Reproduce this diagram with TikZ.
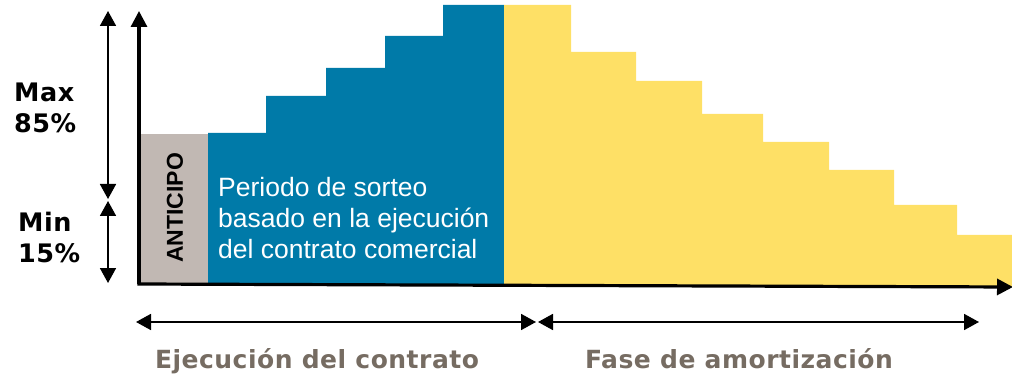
\documentclass[tikz,border=0pt]{standalone}
\usepackage{fontspec}
\setmainfont{Liberation Sans}
\newfontfamily\verd{DejaVu Sans}
\newfontfamily\verdsp[LetterSpace=2]{DejaVu Sans}
\usetikzlibrary{arrows.meta}
\definecolor{cblue}{RGB}{0,122,168}
\definecolor{cyellow}{RGB}{254,224,102}
\definecolor{cgray}{RGB}{193,184,179}
\definecolor{clabel}{RGB}{118,108,98}
\begin{document}
\begin{tikzpicture}[x=1pt,y=-1pt,
  axis/.style={line width=3.2pt,-{Triangle[length=16pt,width=16pt]}},
  dim/.style={line width=1.8pt,{Triangle[length=15pt,width=16pt]}-{Triangle[length=15pt,width=16pt]}},
  pct/.style={font=\verdsp\bfseries\fontsize{25.5}{31}\selectfont,align=left,inner sep=0,anchor=base west},
  phase/.style={font=\verdsp\bfseries\fontsize{25}{30}\selectfont,text=clabel,inner sep=0,anchor=base}]
\useasboundingbox (0,0) rectangle (1012,374);
% bars
\fill[cgray] (141,134) rectangle (208,284);
\fill[cblue] (208,284) -- (208,133) -- (266,133) -- (266,96) -- (326,96) -- (326,68)
  -- (385,68) -- (385,36) -- (443,36) -- (443,5) -- (504,5) -- (504,285) -- cycle;
\fill[cyellow] (504,285) -- (504,5) -- (571,5) -- (571,52) -- (636,52) -- (636,81)
  -- (702,81) -- (702,114) -- (763,114) -- (763,142) -- (829,142) -- (829,170)
  -- (894,170) -- (894,205) -- (957,205) -- (957,235) -- (1012,235) -- (1012,287) -- cycle;
% axes
\coordinate (o) at (139,284);
\coordinate (ytop) at (139,11);
\coordinate (xend) at (1013,287);
\draw[axis] (o) -- (ytop);
\draw[axis] (137.4,284) -- (xend);
% labels in bars
\node[font=\bfseries\fontsize{23}{23}\selectfont,rotate=90,inner sep=0] (antic) at (175,208) {ANTICIPO};
\node[font=\fontsize{26.5}{31}\selectfont,text=white,align=left,inner sep=0,anchor=north west] (periodo) at (218,177.5)
  {Periodo de sorteo\\basado en la ejecución\\del contrato comercial};
% left dimension arrows
\coordinate (maxtop) at (108,11);
\coordinate (maxbot) at (108,199);
\coordinate (mintop) at (108,201);
\coordinate (minbot) at (108,283);
\draw[dim] (maxtop) -- (maxbot);
\draw[dim] (mintop) -- (minbot);
\node[pct] (max) at (14,133) {Max\\85\%};
\node[pct] (min) at (18,262) {Min\\15\%};
% bottom phase arrows
\coordinate (e1) at (136,322);
\coordinate (e2) at (536,322);
\coordinate (f1) at (538,322);
\coordinate (f2) at (979,322);
\draw[dim] (e1) -- (e2);
\draw[dim] (f1) -- (f2);
\node[phase] (ejec) at (317,368) {Ejecución del contrato};
\node[phase] (fase) at (739,368) {Fase de amortización};
\end{tikzpicture}
\end{document}
